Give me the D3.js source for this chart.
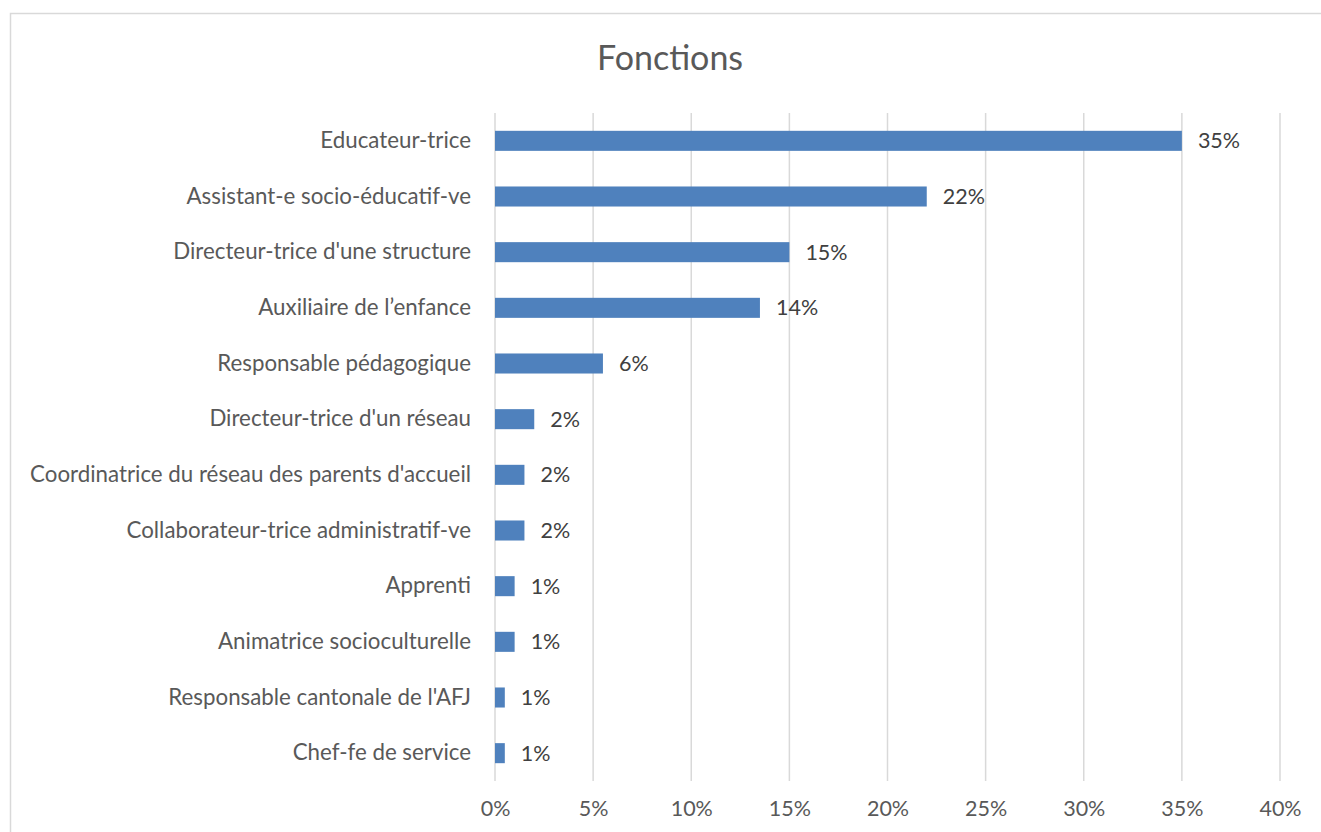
<!DOCTYPE html>
<html>
<head>
<meta charset="utf-8">
<script src="https://cdn.jsdelivr.net/npm/d3@7"></script>
<style>
    body { margin: 0; background: #fff; }
    text { font-family: Lato, "Open Sans", sans-serif; }
</style>
</head>
<body>
<svg id="chart"></svg>
<script>
"use strict";

const categories = [
    "Educateur-trice",
    "Assistant-e socio-éducatif-ve",
    "Directeur-trice d'une structure",
    "Auxiliaire de l’enfance",
    "Responsable pédagogique",
    "Directeur-trice d'un réseau",
    "Coordinatrice du réseau des parents d'accueil",
    "Collaborateur-trice administratif-ve",
    "Apprenti",
    "Animatrice socioculturelle",
    "Responsable cantonale de l'AFJ",
    "Chef-fe de service"
];
const values = [35, 22, 15, 13.5, 5.5, 2, 1.5, 1.5, 1, 1, 0.5, 0.5];
const labels = ["35%", "22%", "15%", "14%", "6%", "2%", "2%", "2%", "1%", "1%", "1%", "1%"];
const ticks = [0, 5, 10, 15, 20, 25, 30, 35, 40];

const width = 1321;
const height = 832;
const margin = { top: 113, right: 41, bottom: 51, left: 495 };

const svg = d3.select("#chart")
    .attr("width", width)
    .attr("height", height);

// chart area border
svg.append("rect")
    .attr("x", 10.5)
    .attr("y", 13.5)
    .attr("width", width)
    .attr("height", height)
    .attr("fill", "none")
    .attr("stroke", "#d9d9d9")
    .attr("stroke-width", 1.5);

svg.append("text")
    .attr("x", 670)
    .attr("y", 70)
    .attr("text-anchor", "middle")
    .attr("font-size", 34)
    .attr("fill", "#595959")
    .text("Fonctions");

const x = d3.scaleLinear()
    .domain([0, 40])
    .range([margin.left, width - margin.right]);

const y = d3.scaleBand()
    .domain(categories)
    .range([margin.top, height - margin.bottom])
    .paddingInner(0.64)
    .paddingOuter(0.32);

// gridlines
svg.append("g")
    .selectAll("line")
    .data(ticks)
    .enter()
    .append("line")
    .attr("x1", d => x(d))
    .attr("x2", d => x(d))
    .attr("y1", margin.top)
    .attr("y2", height - margin.bottom)
    .attr("stroke", "#d9d9d9")
    .attr("stroke-width", 1.5);

const xAxis = svg.append("g")
    .attr("transform", `translate(0, ${height - margin.bottom})`)
    .call(d3.axisBottom(x).tickValues(ticks).tickFormat(d => d + "%").tickSize(0).tickPadding(20));
xAxis.select(".domain").remove();
xAxis.selectAll("text")
    .attr("font-size", 21.5)
    .attr("fill", "#595959")
    .style("font-family", "Lato, 'Open Sans', sans-serif");

const yAxis = svg.append("g")
    .attr("transform", `translate(${margin.left}, 0)`)
    .call(d3.axisLeft(y).tickSize(0).tickPadding(24));
yAxis.select(".domain").remove();
yAxis.selectAll("text")
    .attr("font-size", 22.3)
    .attr("fill", "#595959")
    .style("font-family", "Lato, 'Open Sans', sans-serif");

svg.append("g")
    .selectAll("rect")
    .data(values)
    .enter()
    .append("rect")
    .attr("x", x(0))
    .attr("y", (d, i) => y(categories[i]))
    .attr("width", d => x(d) - x(0))
    .attr("height", y.bandwidth())
    .attr("fill", "#4f81bd");

svg.append("g")
    .selectAll("text")
    .data(values)
    .enter()
    .append("text")
    .attr("x", d => x(d) + 16)
    .attr("y", (d, i) => y(categories[i]) + y.bandwidth() / 2)
    .attr("dy", "0.35em")
    .attr("font-size", 21.5)
    .attr("fill", "#404040")
    .text((d, i) => labels[i]);
</script>
</body>
</html>
